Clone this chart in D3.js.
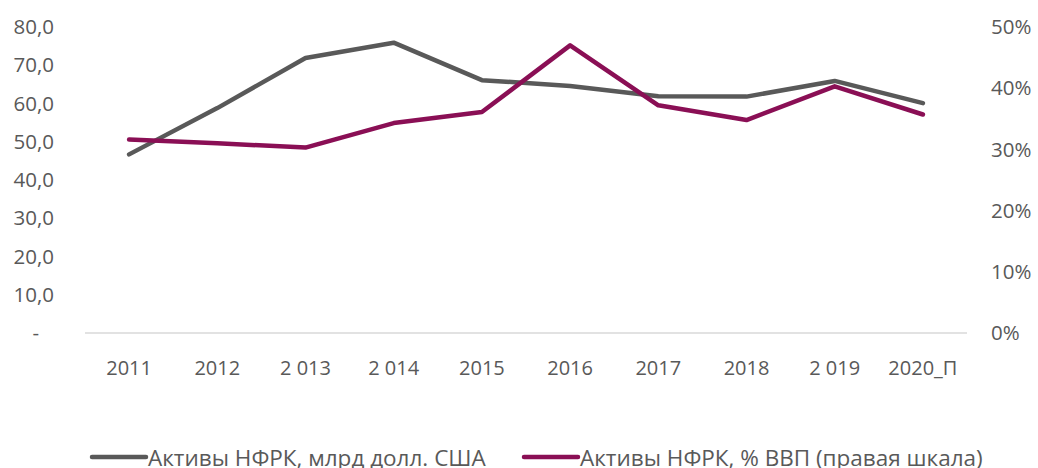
<!DOCTYPE html>
<html>
<head>
<meta charset="utf-8">
<script src="https://cdn.jsdelivr.net/npm/d3@7"></script>
<style>
  html, body { margin: 0; padding: 0; background: #fff; overflow: hidden; }
  svg { display: block; font-family: "Open Sans", "Noto Sans", sans-serif; }
  text { fill: #595959; }
</style>
</head>
<body>
<svg width="1038" height="468"></svg>
<script>
// data
var years = ["2011", "2012", "2 013", "2 014", "2015", "2016", "2017", "2018", "2 019", "2020_П"];
var assetsUsd = [46.7, 58.8, 71.9, 75.9, 66.1, 64.6, 61.9, 61.8, 65.9, 60.1];   // млрд долл. США
var assetsGdp = [0.316, 0.310, 0.303, 0.343, 0.361, 0.470, 0.372, 0.348, 0.403, 0.357]; // % ВВП
var leftTicks = [0, 10, 20, 30, 40, 50, 60, 70, 80];
var rightTicks = [0, 0.1, 0.2, 0.3, 0.4, 0.5];
var seriesNames = ["Активы НФРК, млрд долл. США", "Активы НФРК, % ВВП (правая шкала)"];
var colors = ["#595959", "#8a0f55"];

var svg = d3.select("svg");
var plotLeft = 85, plotRight = 967, plotTop = 27, plotBottom = 333;

var x = d3.scaleBand().domain(years).range([plotLeft, plotRight]);
var yL = d3.scaleLinear().domain([0, 80]).range([plotBottom, plotTop]);
var yR = d3.scaleLinear().domain([0, 0.5]).range([plotBottom, plotTop]);

// baseline
svg.append("line")
  .attr("x1", plotLeft).attr("x2", plotRight)
  .attr("y1", plotBottom).attr("y2", plotBottom)
  .attr("stroke", "#d9d9d9").attr("stroke-width", 1.5);

// left axis
var fmtL = function (d) { return d === 0 ? "-" : d3.format(".1f")(d).replace(".", ","); };
svg.append("g").selectAll("text")
  .data(leftTicks)
  .join("text")
  .attr("x", function (d) { return d === 0 ? 39 : 54; })
  .attr("y", function (d) { return yL(d); })
  .attr("dy", "0.35em")
  .attr("text-anchor", "end")
  .style("font-size", "20.5px")
  .text(fmtL);

// right axis
svg.append("g").selectAll("text")
  .data(rightTicks)
  .join("text")
  .attr("x", 991)
  .attr("y", function (d) { return yR(d); })
  .attr("dy", "0.35em")
  .style("font-size", "20.5px")
  .text(d3.format(".0%"));

// x labels
svg.append("g").selectAll("text")
  .data(years)
  .join("text")
  .attr("x", function (d) { return x(d) + x.bandwidth() / 2; })
  .attr("y", 368)
  .attr("dy", "0.35em")
  .attr("text-anchor", "middle")
  .style("font-size", "20px")
  .text(function (d) { return d; });

var cx = function (d, i) { return x(years[i]) + x.bandwidth() / 2; };

var lineL = d3.line().x(cx).y(function (d) { return yL(d); });
var lineR = d3.line().x(cx).y(function (d) { return yR(d); });

svg.append("path")
  .attr("d", lineL(assetsUsd))
  .attr("fill", "none")
  .attr("stroke", colors[0])
  .attr("stroke-width", 4.5)
  .attr("stroke-linejoin", "round")
  .attr("stroke-linecap", "round");

svg.append("path")
  .attr("d", lineR(assetsGdp))
  .attr("fill", "none")
  .attr("stroke", colors[1])
  .attr("stroke-width", 4.5)
  .attr("stroke-linejoin", "round")
  .attr("stroke-linecap", "round");

// legend
var legendX = [92, 524];
var legend = svg.append("g").selectAll("g")
  .data(seriesNames)
  .join("g")
  .attr("transform", function (d, i) { return "translate(" + legendX[i] + ",457)"; });

legend.append("line")
  .attr("x1", 0).attr("x2", 54)
  .attr("stroke", function (d, i) { return colors[i]; })
  .attr("stroke-width", 4.5)
  .attr("stroke-linecap", "round");

legend.append("text")
  .attr("x", 56)
  .attr("y", 0)
  .attr("dy", "0.4em")
  .style("font-size", "22.5px")
  .text(function (d) { return d; });
</script>
</body>
</html>
